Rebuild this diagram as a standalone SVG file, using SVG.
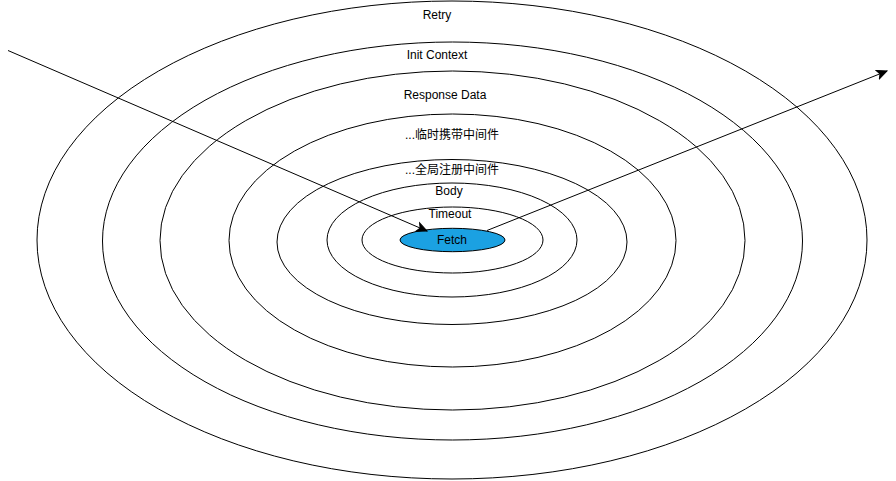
<svg xmlns="http://www.w3.org/2000/svg" width="896" height="481" viewBox="0 0 896 481">
<style>
.ring{fill:none;stroke:#000;stroke-width:1}
.lbl{font-family:"Liberation Sans",Arial,"Noto Sans CJK SC",sans-serif;font-size:12px;fill:#000;text-anchor:middle}
.conn{fill:none;stroke:#000;stroke-width:1}
</style>
<defs>
<marker id="arr" markerUnits="userSpaceOnUse" markerWidth="12" markerHeight="12" viewBox="0 0 12 12" refX="11" refY="6" orient="auto">
<path d="M1,1.5 L11,6 L1,10.5 L3.5,6 Z" fill="#000" stroke="#000" stroke-width="1"/>
</marker>
</defs>
<rect width="896" height="481" fill="#fff"/>
<g id="retry"><ellipse class="ring" cx="452" cy="240" rx="415" ry="239"/><text class="lbl" x="437" y="19">Retry</text></g>
<g id="init-context"><ellipse class="ring" cx="452.5" cy="241" rx="350" ry="199"/><text class="lbl" x="437" y="59">Init Context</text></g>
<g id="response-data"><ellipse class="ring" cx="452.5" cy="240.5" rx="292.5" ry="169.5"/><text class="lbl" x="445" y="99">Response Data</text></g>
<g id="temp-middleware"><ellipse class="ring" cx="452.5" cy="240.5" rx="223.5" ry="126.5"/><text class="lbl" x="452" y="139">...临时携带中间件</text></g>
<g id="global-middleware"><ellipse class="ring" cx="452" cy="242" rx="175" ry="82.5"/><text class="lbl" x="452" y="174">...全局注册中间件</text></g>
<g id="body"><ellipse class="ring" cx="452" cy="240" rx="125" ry="57"/><text class="lbl" x="449" y="195">Body</text></g>
<g id="timeout"><ellipse class="ring" cx="452.5" cy="240" rx="90.5" ry="33"/><text class="lbl" x="450" y="218">Timeout</text></g>
<g id="fetch"><ellipse cx="452.5" cy="240" rx="52.5" ry="11.7" fill="#1ba1e2" stroke="#000" stroke-width="1"/><text class="lbl" x="452" y="244">Fetch</text></g>
<g id="connectors">
<line class="conn" x1="8" y1="50.5" x2="427" y2="231" marker-end="url(#arr)"/>
<line class="conn" x1="487" y1="230.5" x2="887" y2="71" marker-end="url(#arr)"/>
</g>
</svg>
